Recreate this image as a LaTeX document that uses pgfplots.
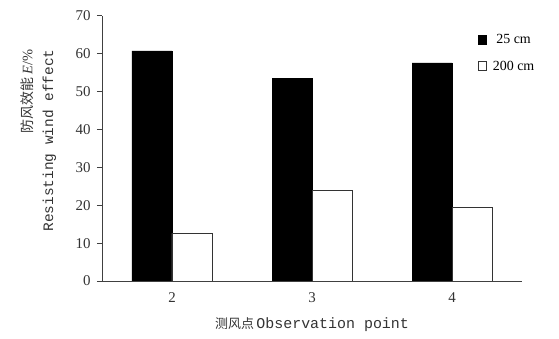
\documentclass[border=0pt]{standalone}
\usepackage{fontspec}
\setmainfont{Liberation Serif}
\setmonofont{Liberation Mono}
\newfontfamily\cjk{Noto Sans CJK SC}
\usepackage{pgfplots}
\pgfplotsset{compat=1.18}
\begin{document}
\begin{tikzpicture}
\begin{axis}[
  at={(0,0)}, anchor=south west,
  scale only axis,
  width=420bp, height=265bp,
  ybar=0pt, bar width=40bp,
  xmin=-0.5, xmax=2.5,
  ymin=0, ymax=70,
  axis lines*=left,
  axis line style={line width=1pt, black!75, -},
  xtick={0,1,2}, xticklabels={2,3,4},
  extra x ticks={0.5,1.5,2.5}, extra x tick labels={},
  extra x tick style={major tick length=4bp, tick style={line width=1pt, black!75}, tick align=inside},
  x tick style={draw=none},
  xticklabel style={yshift=-3bp},
  ytick={0,10,...,70},
  y tick style={line width=1pt, black!75},
  yticklabel style={xshift=-3bp},
  major tick length=5bp,
  tick align=outside,
  tick label style={font=\fontsize{15}{15}\selectfont, text=black!80},
  /pgf/number format/assume math mode=true,
  xlabel={{\fontsize{13}{13}\selectfont\cjk 测风点}\,\texttt{Observation point}},
  xlabel style={font=\fontsize{15}{15}\selectfont, text=black!80, at={(axis description cs:0.5,0)}, anchor=center, yshift=-44bp},
  ylabel={\begin{tabular}{@{}r@{}}{\fontsize{14}{14}\selectfont\cjk 防风效能} \textit{E}/\%\\[6bp] \texttt{Resisting wind effect}\end{tabular}},
  ylabel style={font=\fontsize{14.5}{14.5}\selectfont, text=black!80, at={(axis description cs:0,0.5)}, anchor=center, rotate=0, yshift=63bp, xshift=8bp},
  legend style={at={(rel axis cs:0.895,0.94)}, anchor=north west, draw=none, fill=none,
    font=\fontsize{14}{14}\selectfont, row sep=12bp, column sep=4bp, inner sep=0pt},
  legend image code/.code={\draw[#1, line width=0.8pt] (0bp,-4.5bp) rectangle (8bp,4.5bp);},
]
\addplot[fill=black, draw=black] coordinates {(0,60.8) (1,53.6) (2,57.6)};
\addplot[fill=white, draw=black!80, line width=1pt] coordinates {(0,12.6) (1,23.9) (2,19.5)};
\legend{25 cm, 200 cm}
\end{axis}
\useasboundingbox (-102bp,-58bp) rectangle (457bp,281bp);
\end{tikzpicture}
\end{document}
